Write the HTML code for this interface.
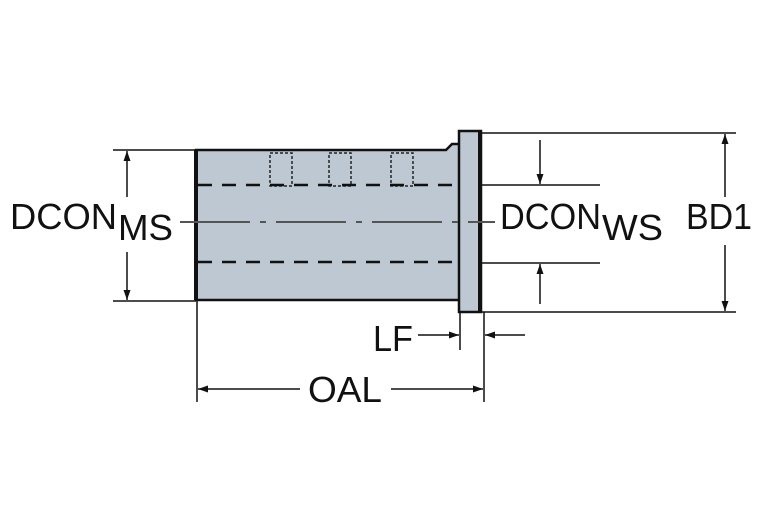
<!DOCTYPE html>
<html><head><style>
html,body{margin:0;padding:0;background:#fff;}
svg{display:block;}
text{font-family:"Liberation Sans",sans-serif;fill:#111;}
</style></head><body>
<svg width="767" height="523" viewBox="0 0 767 523" xmlns="http://www.w3.org/2000/svg">
<defs>
<marker id="b" viewBox="0 0 10 10" refX="10" refY="5" markerWidth="16" markerHeight="10" markerUnits="userSpaceOnUse" orient="auto"><path d="M0,1.5 L10,5 L0,8.5 Z" fill="#111"/></marker>
</defs>
<path d="M196,150 L446,150 L452,144 L460,144 L460,300 L196,300 Z" fill="#bec8d2" stroke="#111" stroke-width="2.5"/>
<rect x="459" y="131" width="22" height="181" fill="#bec8d2" stroke="#111" stroke-width="2.5"/>
<line x1="196" y1="150" x2="196" y2="300" stroke="#111" stroke-width="4"/>
<line x1="480" y1="131" x2="480" y2="312" stroke="#111" stroke-width="4"/>
<g fill="none" stroke="#222" stroke-width="1.5" stroke-dasharray="3,2">
<rect x="270" y="153" width="22" height="33"/>
<rect x="329" y="153" width="22" height="33"/>
<rect x="391" y="153" width="22" height="33"/>
</g>
<line x1="198" y1="185" x2="460" y2="185" stroke="#111" stroke-width="2.5" stroke-dasharray="14,10"/>
<line x1="198" y1="262" x2="460" y2="262" stroke="#111" stroke-width="2.5" stroke-dasharray="14,10"/>
<line x1="180" y1="222" x2="495" y2="222" stroke="#555" stroke-width="2" stroke-dasharray="70,10,6,10"/>
<g stroke="#111" stroke-width="1.5">
<line x1="113" y1="150" x2="196" y2="150"/>
<line x1="113" y1="301" x2="196" y2="301"/>
<line x1="127" y1="197" x2="127" y2="151" marker-end="url(#b)"/>
<line x1="127" y1="252" x2="127" y2="300" marker-end="url(#b)"/>
<line x1="482" y1="133" x2="736" y2="133"/>
<line x1="482" y1="312" x2="736" y2="312"/>
<line x1="725" y1="197" x2="725" y2="134" marker-end="url(#b)"/>
<line x1="725" y1="245" x2="725" y2="311" marker-end="url(#b)"/>
<line x1="482" y1="185" x2="600" y2="185"/>
<line x1="482" y1="263" x2="600" y2="263"/>
<line x1="540" y1="140" x2="540" y2="184" marker-end="url(#b)"/>
<line x1="540" y1="304" x2="540" y2="264" marker-end="url(#b)"/>
<line x1="460" y1="312" x2="460" y2="350"/>
<line x1="484" y1="312" x2="484" y2="402"/>
<line x1="197" y1="300" x2="197" y2="402"/>
<line x1="418" y1="335" x2="459" y2="335" marker-end="url(#b)"/>
<line x1="525" y1="335" x2="485" y2="335" marker-end="url(#b)"/>
<line x1="300" y1="389" x2="198" y2="389" marker-end="url(#b)"/>
<line x1="391" y1="389" x2="483" y2="389" marker-end="url(#b)"/>
</g>
<g font-size="36">
<text x="10" y="229" textLength="107" lengthAdjust="spacingAndGlyphs">DCON</text>
<text x="118" y="240" textLength="55" lengthAdjust="spacingAndGlyphs">MS</text>
<text x="500" y="229" textLength="101" lengthAdjust="spacingAndGlyphs">DCON</text>
<text x="602" y="240" textLength="61" lengthAdjust="spacingAndGlyphs">WS</text>
<text x="686" y="229" textLength="66" lengthAdjust="spacingAndGlyphs">BD1</text>
<text x="373" y="351" textLength="40" lengthAdjust="spacingAndGlyphs">LF</text>
<text x="308" y="402" textLength="74" lengthAdjust="spacingAndGlyphs">OAL</text>
</g>
</svg>
</body></html>
